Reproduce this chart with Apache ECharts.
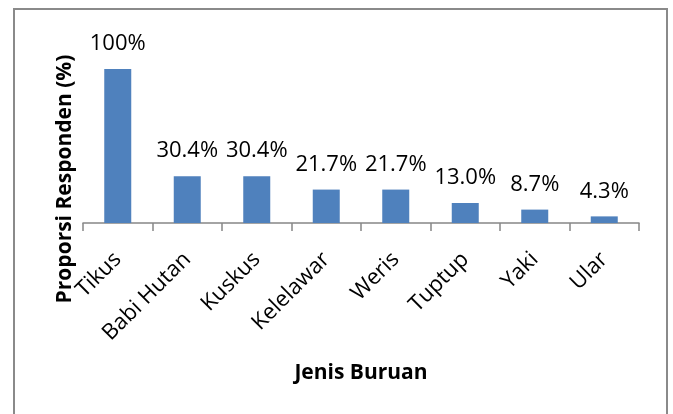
<!DOCTYPE html>
<html>
<head>
<meta charset="utf-8">
<script src="https://cdn.jsdelivr.net/npm/echarts@6/dist/echarts.min.js"></script>
<style>
html,body{margin:0;padding:0;background:#fff;}
#chart{width:673px;height:414px;}
</style>
</head>
<body>
<div id="chart"></div>
<script>
var categories = ["Tikus", "Babi Hutan", "Kuskus", "Kelelawar", "Weris", "Tuptup", "Yaki", "Ular"];
var values = [100, 30.4, 30.4, 21.7, 21.7, 13.0, 8.7, 4.3];
var valueLabels = ["100%", "30.4%", "30.4%", "21.7%", "21.7%", "13.0%", "8.7%", "4.3%"];

var chart = echarts.init(document.getElementById('chart'), null, {renderer: 'canvas'});
var FONT = "Open Sans";
chart.setOption({
  animation: false,
  backgroundColor: '#fff',
  graphic: [{
    type: 'rect',
    shape: {x: 14, y: 9, width: 653, height: 420},
    style: {fill: 'none', stroke: '#8a8a8a', lineWidth: 2},
    silent: true
  }],
  grid: {left: 83, right: 34, top: 69, bottom: 191, containLabel: false},
  xAxis: {
    type: 'category',
    data: categories,
    name: 'Jenis Buruan',
    nameLocation: 'middle',
    nameGap: 140,
    nameTextStyle: {fontFamily: FONT, fontWeight: 'bold', fontSize: 21, color: '#000'},
    axisLine: {show: true, lineStyle: {color: '#868686', width: 1.5}},
    axisTick: {show: true, length: 8, lineStyle: {color: '#868686', width: 1.5}},
    axisLabel: {
      rotate: 45,
      margin: 33,
      fontFamily: FONT,
      fontSize: 22,
      color: '#000'
    }
  },
  yAxis: {
    type: 'value',
    min: 0,
    max: 100,
    name: 'Proporsi Responden (%)',
    nameLocation: 'middle',
    nameRotate: 90,
    nameGap: 7,
    nameTextStyle: {fontFamily: FONT, fontWeight: 'bold', fontSize: 21, color: '#000', padding: [0, 66, 0, 0]},
    axisLine: {show: false},
    axisTick: {show: false},
    axisLabel: {show: false},
    splitLine: {show: false}
  },
  series: [{
    type: 'bar',
    data: values,
    barWidth: 27,
    itemStyle: {color: '#4f81bd'},
    label: {
      show: true,
      position: 'top',
      distance: 14,
      fontFamily: FONT,
      fontSize: 22,
      color: '#000',
      formatter: function (p) { return valueLabels[p.dataIndex]; }
    }
  }]
});
</script>
</body>
</html>
